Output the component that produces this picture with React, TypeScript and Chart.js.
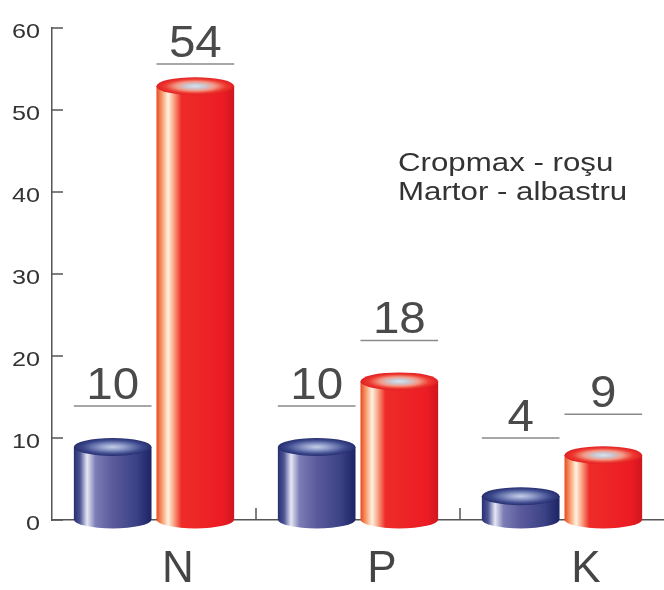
import React, { useEffect, useRef } from "react";
import { Chart, registerables } from "chart.js";
Chart.register(...registerables);

const categories = ["N", "P", "K"];
const martorValues = [10, 10, 4];
const cropmaxValues = [54, 18, 9];
const yMin = 0;
const yMax = 60;
const yStep = 10;
const legendLines = ["Cropmax - roşu", "Martor - albastru"];

const FONT = "'Liberation Sans', Arial, Helvetica, sans-serif";

type Palette = { body: [number, string][]; top: [number, string][] };

const bluePalette: Palette = {
  body: [
    [0, "#262e70"],
    [0.08, "#4e5596"],
    [0.17, "#e6e8f4"],
    [0.28, "#7c7cb6"],
    [0.5, "#5a5a9c"],
    [0.8, "#3c4286"],
    [1, "#1c2464"],
  ],
  top: [
    [0, "#c4cde6"],
    [0.3, "#93a0cc"],
    [0.75, "#3e4a8e"],
    [1, "#252d6e"],
  ],
};

const redPalette: Palette = {
  body: [
    [0, "#e84a22"],
    [0.07, "#f79a6a"],
    [0.15, "#fff2e2"],
    [0.22, "#f9a888"],
    [0.32, "#ee2c28"],
    [0.85, "#ec1c24"],
    [1, "#d0161e"],
  ],
  top: [
    [0, "#dde1ec"],
    [0.22, "#c8ccd8"],
    [0.5, "#f29a88"],
    [0.78, "#ee3a30"],
    [1, "#e01e24"],
  ],
};

function drawCylinder(
  ctx: CanvasRenderingContext2D,
  cx: number,
  top: number,
  base: number,
  w: number,
  pal: Palette
) {
  const rx = w / 2;
  const ry = 9;
  const left = cx - rx;
  const right = cx + rx;
  const topC = Math.min(top + ry, base);
  ctx.save();
  const g = ctx.createLinearGradient(left, 0, right, 0);
  pal.body.forEach(([o, c]) => g.addColorStop(o, c));
  ctx.beginPath();
  ctx.moveTo(left, topC);
  ctx.lineTo(left, base);
  ctx.ellipse(cx, base, rx, ry, 0, Math.PI, 0, true);
  ctx.lineTo(right, topC);
  ctx.closePath();
  ctx.fillStyle = g;
  ctx.fill();
  ctx.translate(cx, topC);
  ctx.scale(1, ry / rx);
  const rg = ctx.createRadialGradient(0, 0, 0, 0, 0, rx);
  pal.top.forEach(([o, c]) => rg.addColorStop(o, c));
  ctx.beginPath();
  ctx.arc(0, 0, rx, 0, Math.PI * 2);
  ctx.fillStyle = rg;
  ctx.fill();
  ctx.restore();
}

function stretchedText(
  ctx: CanvasRenderingContext2D,
  text: string,
  x: number,
  y: number,
  align: CanvasTextAlign,
  sx: number
) {
  ctx.save();
  ctx.translate(x, y);
  ctx.scale(sx, 1);
  ctx.textAlign = align;
  ctx.textBaseline = "alphabetic";
  ctx.fillText(text, 0, 0);
  ctx.restore();
}

const cylinderPlugin = {
  id: "cylinders",
  afterDatasetsDraw(chart: any) {
    const ctx: CanvasRenderingContext2D = chart.ctx;
    const area = chart.chartArea;
    chart.data.datasets.forEach((ds: any, di: number) => {
      const meta = chart.getDatasetMeta(di);
      const pal = di === 0 ? bluePalette : redPalette;
      meta.data.forEach((el: any, i: number) => {
        const p = el.getProps(["x", "y", "base", "width"], true);
        drawCylinder(ctx, p.x, p.y, p.base, p.width, pal);
        const lineY = Math.min(Math.max(p.y - 32, area.top + 36), area.bottom - 82);
        ctx.save();
        ctx.strokeStyle = "#8a8a8a";
        ctx.lineWidth = 1.5;
        ctx.beginPath();
        ctx.moveTo(p.x - p.width / 2, lineY);
        ctx.lineTo(p.x + p.width / 2, lineY);
        ctx.stroke();
        ctx.fillStyle = "#4a4a4a";
        ctx.font = `44px ${FONT}`;
        stretchedText(ctx, String(ds.data[i]), p.x, lineY - 7, "center", 1.08);
        ctx.restore();
      });
    });
  },
  afterDraw(chart: any) {
    const ctx: CanvasRenderingContext2D = chart.ctx;
    const area = chart.chartArea;
    const ys = chart.scales.y;
    const xs = chart.scales.x;
    ctx.save();
    ctx.strokeStyle = "#555";
    ctx.lineWidth = 1.5;
    ctx.fillStyle = "#333";
    ctx.font = `21px ${FONT}`;
    ys.ticks.forEach((t: any) => {
      const py = ys.getPixelForValue(t.value);
      ctx.beginPath();
      ctx.moveTo(area.left, py);
      ctx.lineTo(area.left + 11, py);
      ctx.stroke();
      stretchedText(ctx, String(t.value), area.left - 12, py + 10, "right", 1.2);
    });
    for (let i = 0; i < categories.length - 1; i++) {
      const px = (xs.getPixelForValue(i) + xs.getPixelForValue(i + 1)) / 2;
      ctx.beginPath();
      ctx.moveTo(px, area.bottom);
      ctx.lineTo(px, area.bottom - 12);
      ctx.stroke();
    }
    ctx.fillStyle = "#333";
    ctx.font = `25px ${FONT}`;
    legendLines.forEach((t, i) => {
      stretchedText(ctx, t, area.left + 346, 171 + i * 29, "left", 1.25);
    });
    ctx.restore();
  },
};

export default function App() {
  const ref = useRef<HTMLCanvasElement | null>(null);
  useEffect(() => {
    if (!ref.current) return;
    const chart = new Chart(ref.current, {
      type: "bar",
      data: {
        labels: categories,
        datasets: [
          {
            label: "Martor",
            data: martorValues,
            backgroundColor: "rgba(0,0,0,0)",
            borderWidth: 0,
            categoryPercentage: 0.81,
            barPercentage: 0.94,
          },
          {
            label: "Cropmax",
            data: cropmaxValues,
            backgroundColor: "rgba(0,0,0,0)",
            borderWidth: 0,
            categoryPercentage: 0.81,
            barPercentage: 0.94,
          },
        ],
      },
      options: {
        responsive: false,
        animation: false,
        events: [],
        layout: { padding: { top: 28, right: 0, left: 0, bottom: 0 } },
        plugins: { legend: { display: false }, tooltip: { enabled: false } },
        scales: {
          x: {
            grid: { display: false },
            border: { display: true, color: "#555", width: 1.5 },
            ticks: {
              color: "#454545",
              font: { family: FONT, size: 44 },
              padding: 15,
              labelOffset: 24,
            },
            afterFit: (s: any) => {
              s.height = 70;
            },
          },
          y: {
            min: yMin,
            max: yMax,
            grid: { display: true, drawOnChartArea: false, drawTicks: false },
            border: { display: true, color: "#555", width: 1.5 },
            ticks: {
              stepSize: yStep,
              color: "rgba(0,0,0,0)",
              font: { family: FONT, size: 21 },
              padding: 12,
            },
            afterFit: (s: any) => {
              s.width = 52;
            },
          },
        },
      },
      plugins: [cylinderPlugin],
    });
    return () => chart.destroy();
  }, []);
  return (
    <div style={{ position: "absolute", left: 0, top: 0, width: 664, height: 590, background: "#fff" }}>
      <canvas ref={ref} width={664} height={590} style={{ display: "block" }} />
    </div>
  );
}
